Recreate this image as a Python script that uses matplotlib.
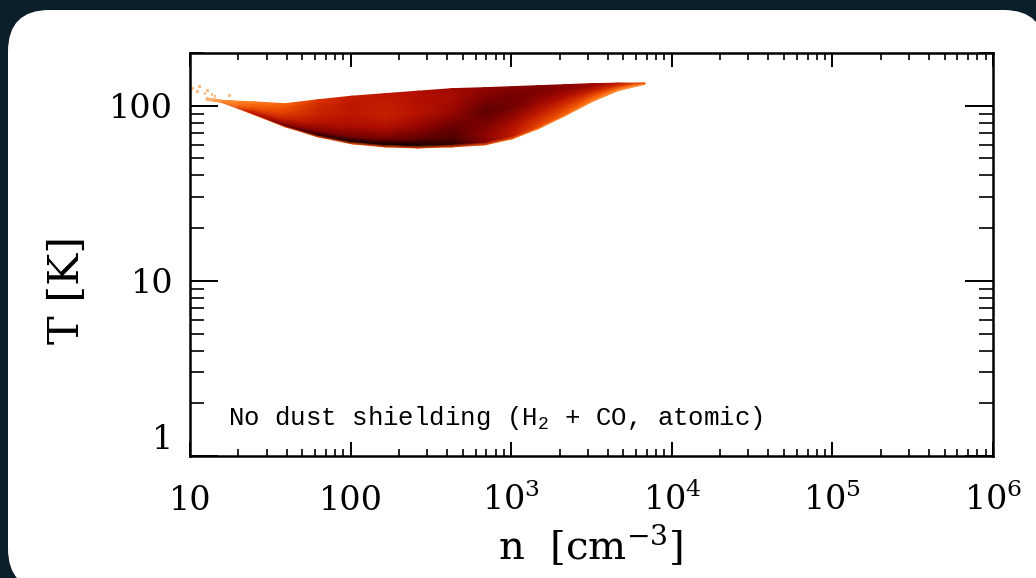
import numpy as np
import matplotlib
matplotlib.use("Agg")
import matplotlib.pyplot as plt
from matplotlib.colors import LinearSegmentedColormap
from matplotlib.patches import FancyBboxPatch
from matplotlib.ticker import NullFormatter

plt.rcParams['font.family'] = ['DejaVu Serif']
plt.rcParams['mathtext.fontset'] = 'dejavuserif'
plt.rcParams['mathtext.rm'] = 'Liberation Mono'

# ---- data ----
# density (n) columns of the phase-space distribution [cm^-3]
n_cols = [12.6, 15.8, 24.3, 39.1, 62.7, 102, 164, 263, 428, 687, 1012, 1469, 2163, 3184, 4624, 6808]
# lower and upper temperature boundaries of the populated region [K]
T_low = [108, 104.7, 90.0, 75.8, 66.4, 60.6, 58.2, 57.4, 58.2, 59.8, 64.7, 73.8, 87.6, 105.4, 121.9, 132.8]
T_high = [111, 107.3, 105.4, 102.7, 108.2, 113.4, 117.2, 121.1, 125.2, 126.8, 128.5, 130.2, 131.9, 133.7, 134.6, 134.6]
# relative position between T_low (0) and T_high (1) of each level
level_frac = [0.0, 0.05, 0.15, 0.35, 0.6, 0.85, 1.0]
# normalised (log) cell density at each level, per column (0 = empty, 1 = max)
dens_f000 = [0.20, 0.30, 0.35, 0.40, 0.45, 0.45, 0.45, 0.45, 0.45, 0.42, 0.38, 0.32, 0.28, 0.25, 0.22, 0.20]
dens_f005 = [0.20, 0.30, 0.60, 0.85, 0.93, 0.96, 0.97, 0.97, 0.93, 0.78, 0.60, 0.45, 0.38, 0.32, 0.28, 0.22]
dens_f015 = [0.20, 0.30, 0.62, 0.72, 0.80, 0.82, 0.82, 0.86, 0.88, 0.75, 0.62, 0.50, 0.43, 0.36, 0.30, 0.24]
dens_f035 = [0.20, 0.30, 0.48, 0.58, 0.66, 0.68, 0.67, 0.74, 0.84, 0.80, 0.70, 0.60, 0.52, 0.45, 0.38, 0.28]
dens_f060 = [0.20, 0.30, 0.40, 0.48, 0.58, 0.62, 0.58, 0.64, 0.72, 0.86, 0.82, 0.72, 0.65, 0.58, 0.48, 0.30]
dens_f085 = [0.20, 0.30, 0.35, 0.42, 0.55, 0.62, 0.60, 0.65, 0.68, 0.78, 0.82, 0.80, 0.75, 0.70, 0.58, 0.35]
dens_f100 = [0.20, 0.30, 0.30, 0.38, 0.50, 0.60, 0.62, 0.66, 0.70, 0.74, 0.76, 0.78, 0.76, 0.72, 0.60, 0.35]
# sparse outlying cells at low density
n_sparse = [10.4, 11.1, 11.5, 12.4, 12.9, 13.7, 14.3, 17.7]
T_sparse = [125, 120, 128.5, 117, 122, 115.5, 113, 114]

x_ticks = [10, 100, 1e3, 1e4, 1e5, 1e6]
x_ticklabels = ['10', '100', '10$^3$', '10$^4$', '10$^5$', '10$^6$']
y_ticks = [1, 10, 100]
y_ticklabels = ['1', '10', '100']
annotation = 'No dust shielding (H$_2$ + CO, atomic)'

# ---- figure ----
W, H = 1036, 578
fig = plt.figure(figsize=(W / 100, H / 100), dpi=100)
fig.patch.set_facecolor('#0a1f2a')
panel = FancyBboxPatch((8 / W, 1 - 590 / H), (1045 - 8) / W, (590 - 10) / H,
                       boxstyle="round,pad=0,rounding_size=0.04",
                       transform=fig.transFigure, facecolor='white',
                       edgecolor='none', zorder=-10, mutation_aspect=W / H)
fig.patches.append(panel)

ax = fig.add_axes([190 / W, 1 - 456 / H, (993 - 190) / W, (456 - 53) / H])
ax.set_zorder(1)
ax.set_facecolor('white')
ax.set_xscale('log')
ax.set_yscale('log')

cmap = LinearSegmentedColormap.from_list('heat', [
    (0.0, '#ffffff'), (0.15, '#ffd8b8'), (0.25, '#ffa050'), (0.35, '#ff7010'),
    (0.45, '#e84800'), (0.55, '#d02800'), (0.65, '#b41000'), (0.75, '#900400'),
    (0.85, '#660000'), (0.93, '#300000'), (1.0, '#000000')])

nc = np.array(n_cols)
lo = np.log10(T_low)
hi = np.log10(T_high)
fr = np.array(level_frac)[:, None]
X = np.tile(nc, (len(level_frac), 1))
Y = 10 ** (lo[None, :] + fr * (hi - lo)[None, :])
C = np.array([dens_f000, dens_f005, dens_f015, dens_f035, dens_f060, dens_f085, dens_f100])
ax.pcolormesh(X, Y, C, shading='gouraud', cmap=cmap, vmin=0, vmax=1,
              rasterized=True, zorder=1)
ax.scatter(n_sparse, T_sparse, s=4, marker='s', c=[0.2] * len(n_sparse),
           cmap=cmap, vmin=0, vmax=1, linewidths=0, zorder=1)

ax.set_xlim(10, 1e6)
ax.set_ylim(1, 200)
ax.set_xticks(x_ticks, labels=x_ticklabels)
ax.set_yticks(y_ticks, labels=y_ticklabels)
ax.xaxis.set_minor_formatter(NullFormatter())
ax.yaxis.set_minor_formatter(NullFormatter())
ax.tick_params(which='both', direction='in', top=True, right=True, colors='black')
ax.tick_params(axis='x', which='major', length=10, width=1.4, labelsize=24, pad=39)
ax.tick_params(axis='x', which='minor', length=5, width=1.2)
ax.tick_params(axis='y', which='major', length=20, width=1.4, labelsize=24, pad=12)
ax.tick_params(axis='y', which='minor', length=10, width=1.2)
for lab in ax.get_xticklabels():
    lab.set_verticalalignment('baseline')
ax.get_yticklabels()[0].set_verticalalignment('bottom')
for s in ax.spines.values():
    s.set_linewidth(1.8)

ax.text(0.047, 0.094, annotation, transform=ax.transAxes, fontsize=18.5,
        family='Liberation Mono', math_fontfamily='custom',
        ha='left', va='center')

fig.text(591 / W, 1 - 545 / H, 'n  [cm$^{-3}$]', fontsize=29, ha='center', va='center')
fig.text(67 / W, 1 - 290 / H, 'T [K]', fontsize=31, rotation=90, ha='center', va='center')

fig.savefig('out.png', dpi=100, facecolor=fig.get_facecolor())
